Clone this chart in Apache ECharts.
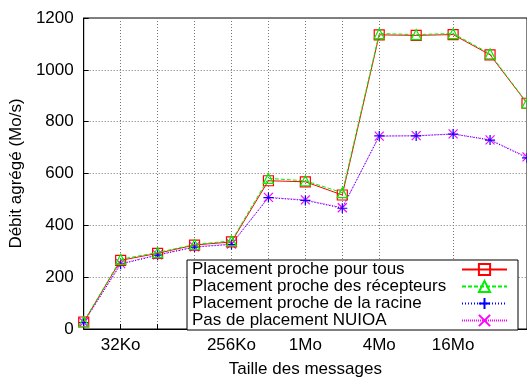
<!DOCTYPE html>
<html>
<head>
<meta charset="utf-8">
<script src="https://cdn.jsdelivr.net/npm/echarts@6/dist/echarts.min.js"></script>
<style>html,body{margin:0;padding:0;background:#fff}#c{width:527px;height:383px}</style>
</head>
<body>
<div id="c"></div>
<script>
// Message sizes in Ko
const sizes = [16, 32, 64, 128, 256, 512, 1024, 2048, 4096, 8192, 16384, 32768, 65536];
const tickValues = [32, 256, 1024, 4096, 16384];
const tickLabels = ['32Ko', '256Ko', '1Mo', '4Mo', '16Mo'];
const gridValues = [32, 64, 128, 256, 512, 1024, 2048, 4096, 16384];

const seriesNames = [
  'Placement proche pour tous',
  'Placement proche des récepteurs',
  'Placement proche de la racine',
  'Pas de placement NUIOA'
];
const procheTous      = [27, 265, 292, 324, 336, 572, 568, 517, 1135, 1133, 1136, 1058, 871];
const procheRecepteurs= [28, 269, 295, 326, 340, 581, 572, 526, 1140, 1136, 1140, 1062, 872];
const procheRacine    = [25, 250, 285, 316, 326, 507, 496, 466, 745, 745, 752, 729, 660];
const pasNUIOA        = [26, 252, 286, 317, 328, 508, 498, 468, 744, 746, 753, 730, 664];

const yTicks = [0, 200, 400, 600, 800, 1000, 1200];

const FONT = 'Liberation Sans';
const FS = 17;
const pair = arr => sizes.map((s, i) => [s, arr[i]]);

const chart = echarts.init(document.getElementById('c'), null, {renderer: 'canvas'});
chart.setOption({
  animation: false,
  textStyle: {fontFamily: FONT},
  grid: {left: 81, right: -1, top: 18, bottom: 50, show: true, borderColor: '#000', borderWidth: 1, containLabel: false},
  xAxis: {
    type: 'log', logBase: 2, min: sizes[0], max: sizes[sizes.length - 1],
    name: 'Taille des messages', nameLocation: 'middle', nameGap: 32,
    nameTextStyle: {fontSize: FS, color: '#000', fontFamily: FONT},
    axisLine: {show: true, onZero: false, lineStyle: {color: '#000', width: 1}},
    axisTick: {show: true, inside: true, length: 5, customValues: gridValues, lineStyle: {color: '#000'}},
    axisLabel: {show: true, margin: 8, fontSize: FS, color: '#000', fontFamily: FONT,
      customValues: tickValues,
      formatter: v => { const i = tickValues.indexOf(Math.round(v)); return i >= 0 ? tickLabels[i] : ''; }},
    splitLine: {show: true, lineStyle: {color: '#777', type: [1, 2], width: 1}},
    minorTick: {show: false}
  },
  yAxis: {
    type: 'value', min: yTicks[0], max: yTicks[yTicks.length - 1], interval: 200,
    name: 'Débit agrégé (Mo/s)', nameLocation: 'middle', nameGap: 55, nameRotate: 90,
    nameTextStyle: {fontSize: FS, color: '#000', fontFamily: FONT},
    axisLine: {show: true, lineStyle: {color: '#000', width: 1}},
    axisTick: {show: true, inside: true, length: 5, lineStyle: {color: '#000'}},
    axisLabel: {margin: 10, fontSize: FS, color: '#000', fontFamily: FONT, formatter: v => String(v)},
    splitLine: {show: true, lineStyle: {color: '#777', type: [1, 2], width: 1}}
  },
  legend: {
    orient: 'vertical', left: 187, top: 260, align: 'right',
    backgroundColor: '#fff', borderColor: '#000', borderWidth: 1,
    padding: [1, 10, 1, 5], itemGap: 0, itemWidth: 45, itemHeight: 14,
    formatter: n => '{t|' + n + '}',
    textStyle: {fontSize: FS, color: '#000', fontFamily: FONT,
      rich: {t: {fontSize: FS, fontFamily: FONT, color: '#000', width: 265, align: 'left', lineHeight: 17}}},
    data: seriesNames
  },
  series: [
    {name: seriesNames[0], type: 'line', data: pair(procheTous), symbol: 'rect', symbolSize: 10,
      lineStyle: {color: '#ff0000', width: 1, type: 'solid'},
      itemStyle: {color: 'none', borderColor: '#ff0000', borderWidth: 1.2}, z: 4},
    {name: seriesNames[1], type: 'line', data: pair(procheRecepteurs), symbol: 'triangle', symbolSize: 10,
      lineStyle: {color: '#00ee00', width: 1, type: [4, 2]},
      itemStyle: {color: 'none', borderColor: '#00ee00', borderWidth: 1.2}, z: 5},
    {name: seriesNames[2], type: 'line', data: pair(procheRacine), symbol: 'path://M5,0 L5,10 M0,5 L10,5', symbolSize: 10,
      lineStyle: {color: '#0000ff', width: 1, type: [1, 2]},
      itemStyle: {color: 'none', borderColor: '#0000ff', borderWidth: 1.2}, z: 3},
    {name: seriesNames[3], type: 'line', data: pair(pasNUIOA), symbol: 'path://M0,0 L10,10 M10,0 L0,10', symbolSize: 9,
      lineStyle: {color: '#ff00ff', width: 1, type: [1, 1]},
      itemStyle: {color: 'none', borderColor: '#ff00ff', borderWidth: 1.2}, z: 2}
  ]
});
</script>
</body>
</html>
